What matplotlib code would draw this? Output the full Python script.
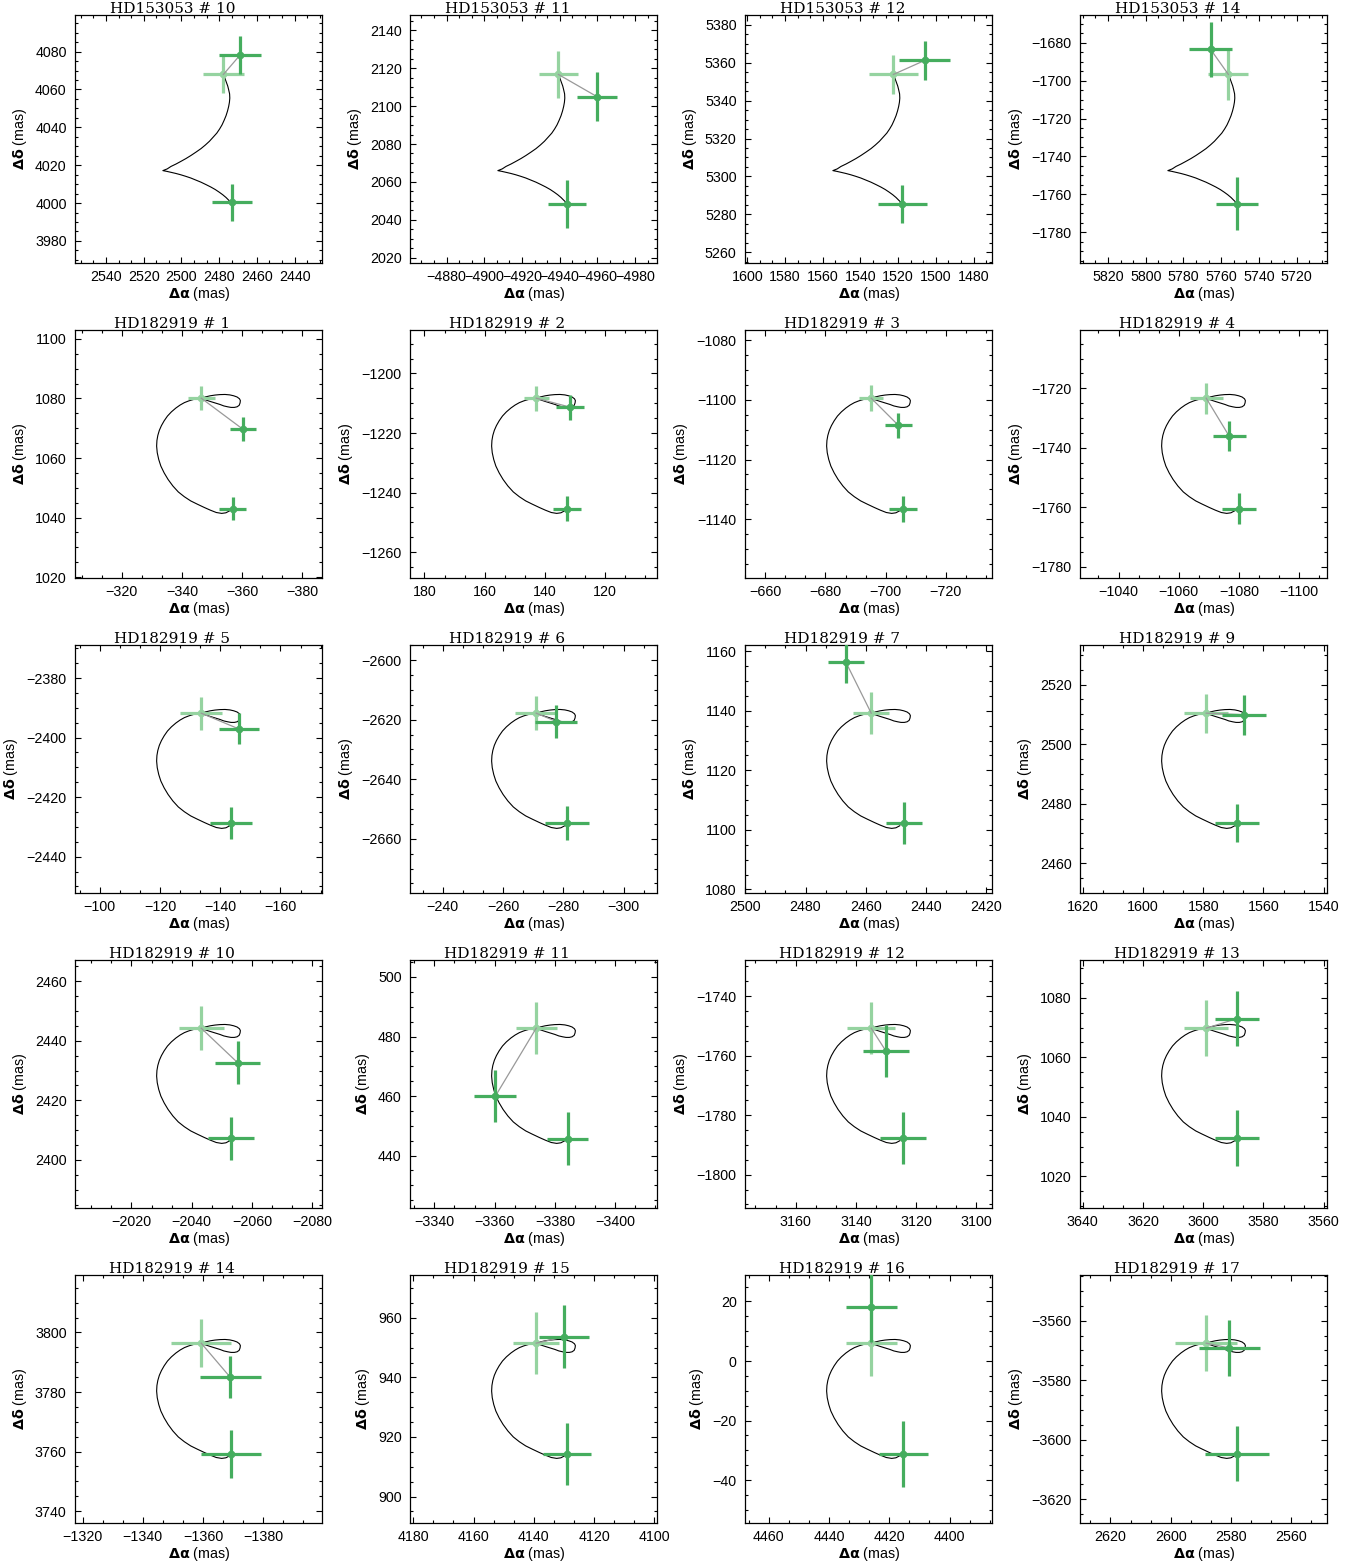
import matplotlib
matplotlib.use('Agg')
import matplotlib.pyplot as plt
from matplotlib.ticker import MultipleLocator

plt.rcParams['font.family'] = ['Liberation Sans', 'DejaVu Sans']
plt.rcParams['mathtext.fontset'] = 'dejavusans'

# panel titles, star 0 = HD153053, 1 = HD182919
titles = ['HD153053 # 10', 'HD153053 # 11', 'HD153053 # 12', 'HD153053 # 14',
          'HD182919 # 1', 'HD182919 # 2', 'HD182919 # 3', 'HD182919 # 4',
          'HD182919 # 5', 'HD182919 # 6', 'HD182919 # 7', 'HD182919 # 9',
          'HD182919 # 10', 'HD182919 # 11', 'HD182919 # 12', 'HD182919 # 13',
          'HD182919 # 14', 'HD182919 # 15', 'HD182919 # 16', 'HD182919 # 17']
star = [0, 0, 0, 0] + [1] * 16

# predicted position at 2nd epoch (light green), mas
mod_x = [2477.75, -4939.3, 1522.5, 5756.15,
         -346.4, 142.9, -695.2, -1069.1,
         -133.7, -271.0, 2458.2, 1579.0,
         -2043.15, -3373.8, 3134.9, 3599.0,
         -1359.4, 4139.2, 4426.0, 2588.2]
mod_y = [4067.95, 2116.75, 5353.85, -1696.7,
         1080.1, -1208.3, -1099.4, -1723.3,
         -2391.8, -2617.8, 1139.2, 2510.4,
         2444.25, 482.8, -1750.8, 1069.8,
         3796.4, 951.5, 6.0, -3567.55]
mod_ex = [10.9, 10.4, 13.2, 10.6, 4.5, 4.1, 3.9, 5.5, 6.9, 7.0, 6.0, 7.3,
          7.5, 6.8, 7.9, 7.3, 9.9, 7.7, 8.5, 10.2]
mod_ey = [10.0, 12.5, 10.4, 13.7, 4.1, 4.2, 4.3, 5.2, 5.5, 5.8, 7.0, 6.6,
          7.35, 8.8, 8.75, 9.3, 8.0, 10.5, 11.0, 9.4]

# 1st epoch measurement
obs1_x = [2473.3, -4943.9, 1517.7, 5751.55,
          -356.8, 132.6, -705.7, -1080.0,
          -143.6, -281.2, 2447.3, 1568.8,
          -2053.1, -3384.2, 3124.4, 3588.8,
          -1369.3, 4129.0, 4415.3, 2578.0]
obs1_y = [4000.4, 2048.35, 5285.45, -1764.9,
          1043.0, -1245.4, -1136.7, -1760.4,
          -2428.7, -2654.7, 1102.2, 2473.5,
          2407.3, 445.7, -1787.8, 1032.8,
          3759.2, 914.35, -31.2, -3604.7]
obs1_ex = [10.7, 10.3, 13.1, 11.2, 4.4, 4.7, 4.6, 5.5, 7.0, 7.3, 6.0, 7.3,
           7.7, 6.9, 7.7, 7.3, 9.9, 8.0, 8.2, 10.5]
obs1_ey = [9.7, 12.5, 10.2, 14.1, 3.9, 4.2, 4.3, 5.2, 5.4, 5.7, 7.0, 6.5,
           7.2, 8.8, 8.75, 9.4, 8.0, 10.5, 11.05, 9.3]

# 2nd epoch measurement
obs2_x = [2468.9, -4959.9, 1505.9, 5765.55,
          -360.2, 131.7, -704.2, -1076.7,
          -146.2, -277.7, 2466.6, 1566.5,
          -2055.2, -3360.2, 3130.0, 3588.8,
          -1369.0, 4130.0, 4426.0, 2580.6]
obs2_y = [4078.2, 2104.95, 5361.25, -1683.5,
          1069.7, -1211.3, -1108.5, -1736.0,
          -2397.1, -2620.6, 1156.3, 2509.9,
          2432.7, 459.9, -1758.5, 1073.0,
          3785.0, 953.6, 18.05, -3569.15]
obs2_ex = [11.0, 10.7, 13.4, 11.3, 4.3, 4.6, 4.4, 5.5, 6.7, 7.0, 6.0, 7.3,
           7.6, 7.0, 7.6, 7.3, 10.1, 8.2, 8.5, 10.1]
obs2_ey = [9.9, 13.0, 10.4, 14.3, 4.0, 4.2, 4.2, 5.1, 5.2, 5.6, 6.8, 6.7,
           7.35, 8.7, 8.8, 9.3, 7.0, 10.6, 11.5, 9.3]

# model tracks, offsets (mas) from the 2nd epoch model position
trackA_dx = [-4.5, -3.0, -1.4, 0.4, 2.2, 4.3, 6.6, 9.2, 11.9, 14.6, 17.3, 20.0,
             22.6, 25.2, 27.8, 30.0, 32.1,
             29.8, 27.8, 25.1, 22.5, 19.8, 17.2, 14.5, 11.9, 9.6, 7.4, 5.4,
             3.5, 2.0, 0.7, -0.4, -1.4, -2.2, -2.8, -3.2, -3.4, -3.3, -2.8,
             -2.3, -1.6, -0.8, 0.0]
trackA_dy = [-68.0, -66.6, -65.0, -63.5, -62.2, -60.8, -59.5, -58.2, -56.9,
             -55.8, -54.7, -53.8, -53.0, -52.3, -51.7, -51.2, -50.8,
             -49.9, -48.6, -47.3, -45.9, -44.4, -42.8, -41.0, -39.2, -37.3,
             -35.3, -33.1, -31.0, -28.8, -26.6, -24.2, -21.8, -19.3, -16.9,
             -14.7, -12.5, -10.3, -8.1, -6.1, -4.2, -2.0, 0.0]

trackB_dx = [-9.5, -8.2, -6.8, -5.0, -3.0, -1.0, 1.3, 3.5, 5.6, 7.6, 9.4, 11.0,
             12.3, 13.4, 14.1, 14.6, 14.8, 14.7, 14.4, 13.9, 13.2, 12.3, 11.2,
             9.9, 8.4, 7.0, 5.6, 4.1, 2.6, 1.2, 0.0,
             -1.5, -3.0, -4.6, -6.2, -7.9, -9.5, -10.8, -11.9, -12.7, -13.0,
             -12.9, -12.6, -11.9, -11.0, -9.9, -8.8, -7.5, -6.2, -4.6, -3.0,
             -1.5, 0.0]
trackB_dy = [-37.8, -38.5, -38.7, -38.4, -37.6, -36.7, -35.6, -34.5, -33.1,
             -31.5, -29.5, -27.3, -25.1, -22.8, -20.6, -18.3, -16.1, -14.2,
             -12.5, -10.8, -9.2, -7.6, -6.0, -4.6, -3.3, -2.3, -1.5, -0.9,
             -0.45, -0.15, 0.0,
             0.45, 0.8, 1.05, 1.2, 1.25, 1.1, 0.8, 0.4, -0.2, -0.8, -1.6,
             -2.4, -2.9, -3.1, -3.1, -2.9, -2.6, -2.1, -1.6, -1.1, -0.6, 0.0]

tracks = [(trackA_dx, trackA_dy), (trackB_dx, trackB_dy)]
# plot window relative to the model point: (left, x span, top, y span) in mas
windows = [(78.7, 131.0, 31.4, 131.0), (41.9, 82.0, 22.9, 83.3)]

dark = '#45ad5e'
light = '#95d3a0'

W, H = 1365, 1566
col_left = [75, 410, 745, 1080]
row_top = [15, 330, 645, 960, 1275]
bw, bh = 247, 248

fig = plt.figure(figsize=(W / 100, H / 100), dpi=100)

for k in range(20):
    r, c = divmod(k, 4)
    ax = fig.add_axes([col_left[c] / W, 1 - (row_top[r] + bh) / H, bw / W, bh / H])
    tdx, tdy = tracks[star[k]]
    ax.plot([mod_x[k] + d for d in tdx], [mod_y[k] + d for d in tdy],
            color='black', lw=0.8, zorder=2)
    ax.errorbar(mod_x[k], mod_y[k], xerr=mod_ex[k], yerr=mod_ey[k], fmt='o',
                color=light, ms=4.5, elinewidth=2.3, capsize=0, zorder=3)
    ax.plot([mod_x[k], obs2_x[k]], [mod_y[k], obs2_y[k]], color='#999999',
            lw=0.9, zorder=4)
    ax.errorbar(obs1_x[k], obs1_y[k], xerr=obs1_ex[k], yerr=obs1_ey[k], fmt='o',
                color=dark, ms=4.5, elinewidth=2.3, capsize=0, zorder=5)
    ax.errorbar(obs2_x[k], obs2_y[k], xerr=obs2_ex[k], yerr=obs2_ey[k], fmt='o',
                color=dark, ms=4.5, elinewidth=2.3, capsize=0, zorder=5)

    wl, wx, wt, wy = windows[star[k]]
    left = mod_x[k] + wl
    top = mod_y[k] + wt
    ax.set_xlim(left, left - wx)
    ax.set_ylim(top - wy, top)

    ax.xaxis.set_major_locator(MultipleLocator(20))
    ax.xaxis.set_minor_locator(MultipleLocator(20 / 3))
    ax.yaxis.set_major_locator(MultipleLocator(20))
    ax.yaxis.set_minor_locator(MultipleLocator(5))
    ax.tick_params(which='both', direction='in', top=True, right=True,
                   labelsize=10.3, width=0.8)
    ax.tick_params(which='major', length=4.3)
    ax.tick_params(which='minor', length=2.1)
    ax.tick_params(axis='x', pad=5)
    ax.tick_params(axis='y', pad=6)
    for s in ax.spines.values():
        s.set_linewidth(0.9)

    ax.set_xlabel(r'$\mathbf{\Delta\alpha}$ (mas)', fontsize=10.3)
    ax.set_ylabel(r'$\mathbf{\Delta\delta}$ (mas)', fontsize=10.3, labelpad=4.5)
    ax.xaxis.set_label_coords(0.502, -0.124)
    ax.xaxis.label.set_verticalalignment('center')

    ax.text(0.394, 1.008, titles[k], transform=ax.transAxes, ha='center',
            va='baseline', fontsize=11, family='DejaVu Serif')

fig.savefig('out.png', dpi=100)
